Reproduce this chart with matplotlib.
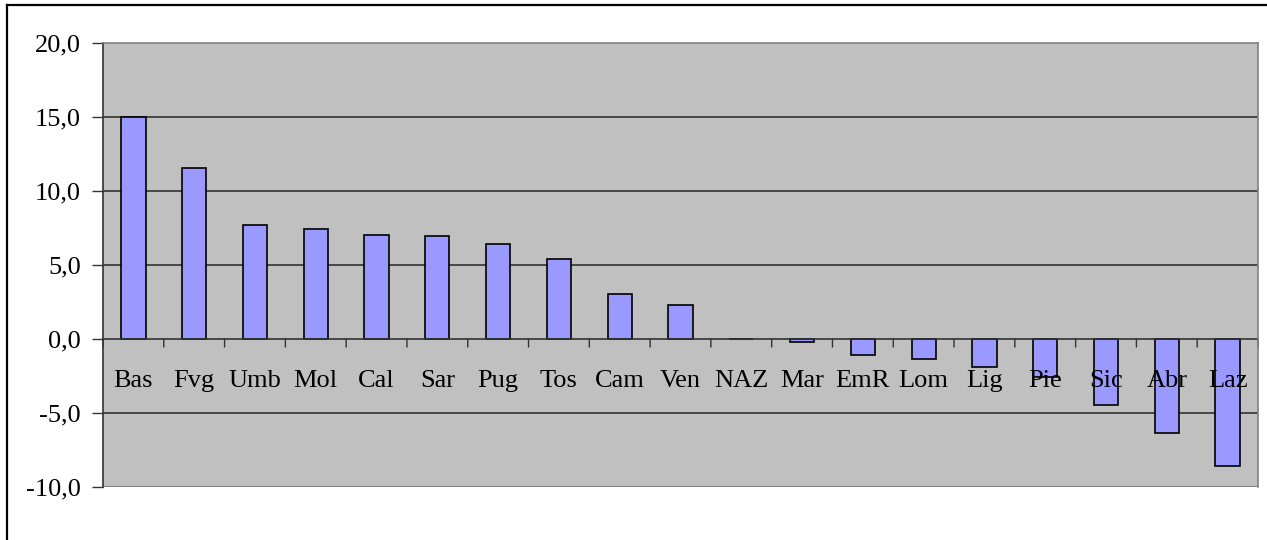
import matplotlib
matplotlib.use("Agg")
import matplotlib.pyplot as plt
from matplotlib.lines import Line2D

categories = ["Bas", "Fvg", "Umb", "Mol", "Cal", "Sar", "Pug", "Tos", "Cam", "Ven",
              "NAZ", "Mar", "EmR", "Lom", "Lig", "Pie", "Sic", "Abr", "Laz"]
values = [15.0, 11.55, 7.73, 7.46, 7.03, 6.94, 6.42, 5.38, 3.07, 2.28,
          0.0, -0.18, -1.09, -1.36, -1.88, -2.55, -4.46, -6.38, -8.57]
yticks = [-10, -5, 0, 5, 10, 15, 20]
ytick_labels = ["-10,0", "-5,0", "0,0", "5,0", "10,0", "15,0", "20,0"]

plt.rcParams['font.family'] = ['Liberation Serif', 'DejaVu Serif']

fig = plt.figure(figsize=(12.67, 5.40), dpi=100)
fig.patch.set_facecolor("white")
ax = fig.add_axes([103/1267, 1 - 487/540, (1258 - 103)/1267, (487 - 43)/540])
ax.set_facecolor("#C0C0C0")

n = len(categories)
x = list(range(n))

# gridlines (behind bars)
for yv in yticks:
    if yv not in (yticks[0], yticks[-1], 0):
        ax.axhline(yv, color="#333333", linewidth=1.2, zorder=0.5)

ax.bar(x, values, width=0.4, color="#9999FF", edgecolor="black", linewidth=1.2, zorder=1)

ax.set_xlim(-0.5, n - 0.5)
ax.set_ylim(yticks[0], yticks[-1])

# frame
for side in ["top", "right"]:
    ax.spines[side].set_color("#808080")
    ax.spines[side].set_linewidth(1.2)
ax.spines["left"].set_color("#333333")
ax.spines["left"].set_linewidth(1.2)
ax.spines["bottom"].set_visible(False)
ax.axhline(yticks[0], color="#808080", linewidth=1.5, zorder=0.6)
ax.axhline(0, color="#333333", linewidth=1.2, zorder=2)

ax.set_yticks(yticks)
ax.set_yticklabels(ytick_labels, fontsize=19)
ax.tick_params(axis="y", direction="out", length=8, width=1, color="#333333", pad=8)

ax.set_xticks([])
# category boundary ticks hanging down from the zero line
for i in range(n + 1):
    ax.annotate("", xy=(i - 0.5, 0), xytext=(0, -8), textcoords="offset pixels",
                arrowprops=dict(arrowstyle="-", color="#333333", lw=1.0,
                                shrinkA=0, shrinkB=0), zorder=2)
for i, c in enumerate(categories):
    ax.annotate(c, xy=(i, 0), xytext=(0, -42), textcoords="offset pixels",
                ha="center", va="center", fontsize=19, zorder=5)

# outer border (left and top visible)
fig.add_artist(Line2D([7/1267, 7/1267], [0, 1 - 5/540], transform=fig.transFigure,
                      color="black", linewidth=1.6))
fig.add_artist(Line2D([7/1267, 1], [1 - 5/540, 1 - 5/540], transform=fig.transFigure,
                      color="black", linewidth=1.6))

fig.savefig("out.png", dpi=100)
